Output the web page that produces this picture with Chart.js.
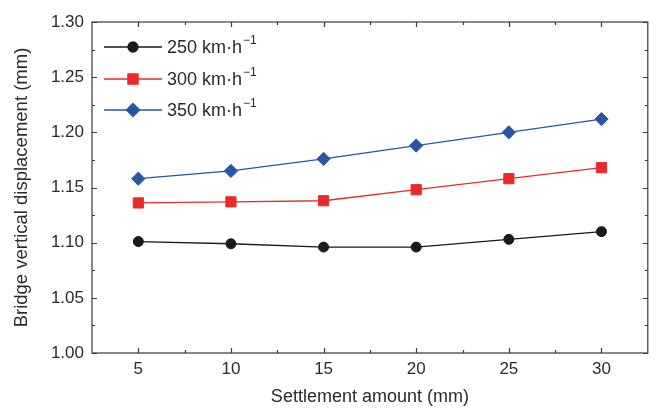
<!DOCTYPE html>
<html><head><meta charset="utf-8">
<script src="https://cdn.jsdelivr.net/npm/chart.js@4/dist/chart.umd.min.js"></script>
<style>html,body{margin:0;padding:0;background:#fff}#wrap{width:656px;height:410px}</style>
</head><body><div id="wrap"><canvas id="c" width="656" height="410"></canvas></div>
<script>
const settlement = [5, 10, 15, 20, 25, 30];
const speedLabels = ['250 km\u00B7h', '300 km\u00B7h', '350 km\u00B7h'];
const disp250 = [1.101, 1.099, 1.096, 1.096, 1.103, 1.110];
const disp300 = [1.136, 1.137, 1.138, 1.148, 1.158, 1.168];
const disp350 = [1.158, 1.165, 1.176, 1.188, 1.200, 1.212];
const xTicks = [5, 10, 15, 20, 25, 30];
const xMinor = [7.5, 12.5, 17.5, 22.5, 27.5];
const yTicks = [1.00, 1.05, 1.10, 1.15, 1.20, 1.25, 1.30];
const yMinor = [1.025, 1.075, 1.125, 1.175, 1.225, 1.275];

const FONT = '"Liberation Sans", Arial, sans-serif';
const TEXT = '#2b2b2b';
const AXIS = '#3a3a3a';

function pts(arr) { return settlement.map((x, i) => ({ x: x, y: arr[i] })); }

const series = [
  { data: disp250, color: '#1a1a1a', style: 'circle', radius: 5 },
  { data: disp300, color: '#ea2a2a', style: 'rect', radius: 7.2 },
  { data: disp350, color: '#2756a8', style: 'rectRot', radius: 6.6 }
];

const framePlugin = {
  id: 'frame',
  afterDraw(chart) {
    const { ctx, chartArea: a, scales } = chart;
    const xs = scales.x, ys = scales.y;
    ctx.save();
    ctx.strokeStyle = AXIS;
    ctx.lineWidth = 1.2;
    ctx.strokeRect(a.left, a.top, a.right - a.left, a.bottom - a.top);
    ctx.beginPath();
    const tick = (vals, len) => {
      vals.forEach(v => {
        const px = Math.round(xs.getPixelForValue(v)) + 0.5;
        ctx.moveTo(px, a.bottom); ctx.lineTo(px, a.bottom - len);
        ctx.moveTo(px, a.top); ctx.lineTo(px, a.top + len);
      });
    };
    const tickY = (vals, len) => {
      vals.forEach(v => {
        const py = Math.round(ys.getPixelForValue(v)) + 0.5;
        ctx.moveTo(a.left, py); ctx.lineTo(a.left + len, py);
        ctx.moveTo(a.right, py); ctx.lineTo(a.right - len, py);
      });
    };
    tick(xTicks, 5); tick(xMinor, 3);
    tickY(yTicks, 5); tickY(yMinor, 3);
    ctx.stroke();

    // legend
    const lx0 = a.left + 12, lx1 = a.left + 70, mx = a.left + 41, tx = a.left + 75;
    const rows = [a.top + 25, a.top + 57, a.top + 88];
    chart.data.datasets.forEach((ds, i) => {
      const y = rows[i];
      ctx.strokeStyle = ds.borderColor;
      ctx.lineWidth = 1.3;
      ctx.beginPath(); ctx.moveTo(lx0, y); ctx.lineTo(lx1, y); ctx.stroke();
      ctx.fillStyle = ds.pointBackgroundColor;
      ctx.strokeStyle = ds.pointBorderColor;
      Chart.helpers.drawPoint(ctx, { pointStyle: ds.pointStyle, radius: ds.pointRadius, rotation: 0, borderWidth: 1 }, mx, y);
      ctx.fillStyle = TEXT;
      ctx.textBaseline = 'middle';
      ctx.textAlign = 'left';
      ctx.font = '18px ' + FONT;
      ctx.fillText(ds.label, tx, y + 1);
      const w = ctx.measureText(ds.label).width;
      ctx.font = '12px ' + FONT;
      ctx.fillText('\u22121', tx + w + 1, y - 6);
    });
    ctx.restore();
  }
};

new Chart(document.getElementById('c'), {
  type: 'line',
  data: {
    datasets: series.map((s, i) => ({
      label: speedLabels[i],
      data: pts(s.data),
      borderColor: s.color,
      backgroundColor: s.color,
      pointBackgroundColor: s.color,
      pointBorderColor: s.color,
      pointBorderWidth: 1,
      pointStyle: s.style,
      pointRadius: s.radius,
      pointHoverRadius: s.radius,
      borderWidth: 1.3,
      tension: 0,
      fill: false
    }))
  },
  options: {
    responsive: false,
    devicePixelRatio: 1,
    animation: false,
    events: [],
    layout: { padding: { left: 0, right: 3, top: 22, bottom: 0 } },
    plugins: { legend: { display: false }, tooltip: { enabled: false }, title: { display: false } },
    scales: {
      x: {
        type: 'linear',
        min: 2.5, max: 32.5,
        afterBuildTicks: s => { s.ticks = xTicks.map(v => ({ value: v })); },
        afterFit: s => { s.height = 57; s.paddingLeft = 0; s.paddingRight = 0; },
        grid: { display: false, drawTicks: false },
        border: { display: false },
        ticks: { padding: 6, color: TEXT, font: { family: FONT, size: 17 }, maxRotation: 0, autoSkip: false, callback: v => String(v) },
        title: { display: true, text: 'Settlement amount (mm)', color: TEXT, font: { family: FONT, size: 18 }, padding: { top: 0, bottom: 2 } }
      },
      y: {
        type: 'linear',
        min: 1.0, max: 1.3,
        afterBuildTicks: s => { s.ticks = yTicks.map(v => ({ value: v })); },
        afterFit: s => { s.width = 92; s.paddingTop = 0; s.paddingBottom = 0; },
        grid: { display: false, drawTicks: false },
        border: { display: false },
        ticks: { padding: 8, color: TEXT, font: { family: FONT, size: 17 }, autoSkip: false, callback: v => Number(v).toFixed(2) },
        title: { display: true, text: 'Bridge vertical displacement (mm)', color: TEXT, font: { family: FONT, size: 18.5 }, padding: { top: 11, bottom: 0 } }
      }
    }
  },
  plugins: [framePlugin]
});
</script>
</body></html>
